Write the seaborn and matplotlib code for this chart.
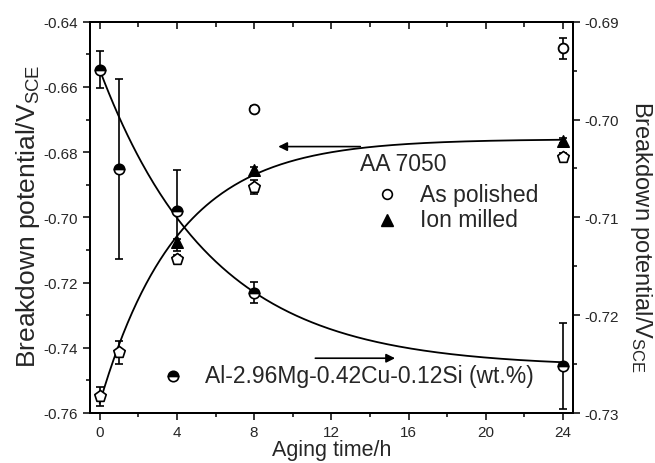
import numpy as np
import pandas as pd
import matplotlib
matplotlib.use("Agg")
import matplotlib.pyplot as plt
import seaborn as sns

# ---------------- data ----------------
# AA 7050 (left axis)
time_pol = [0, 1, 4, 8, 24]
bp_pol = [-0.7549, -0.7414, -0.7128, -0.6906, -0.6814]
err_pol = [0.0030, 0.0036, 0.0012, 0.0022, 0.0012]

time_ion = [4, 8, 24]
bp_ion = [-0.7077, -0.6855, -0.6765]
err_ion = [0.0010, 0.0010, 0.0008]

time_circ = [8, 24]
bp_circ = [-0.6668, -0.6482]
err_circ = [0.0010, 0.0031]

# Al-2.96Mg-0.42Cu-0.12Si (right axis)
time_al = [0, 1, 4, 8, 24]
bp_al = [-0.6949, -0.7051, -0.7093, -0.7177, -0.7252]
err_al = [0.0019, 0.0092, 0.0041, 0.0011, 0.0044]

# exponential fit parameters (asymptote, amplitude, time constant)
fit_7050 = (-0.676, -0.081, 4.0)
fit_al = (-0.7253, 0.0304, 5.8)

x_ticks = [0, 4, 8, 12, 16, 20, 24]
left_ticks = [-0.76, -0.74, -0.72, -0.70, -0.68, -0.66, -0.64]
right_ticks = [-0.73, -0.72, -0.71, -0.70, -0.69]

# ---------------- style ----------------
sns.set_theme(style="ticks")
plt.rcParams["font.family"] = ["Liberation Sans", "DejaVu Sans"]
plt.rcParams["mathtext.default"] = "regular"
plt.rcParams["axes.unicode_minus"] = False
plt.rcParams["axes.linewidth"] = 1.4

fig = plt.figure(figsize=(6.55, 4.64), dpi=100)
ax = fig.add_axes([90 / 655, 1 - 414 / 464, (572.7 - 90) / 655, (414 - 22.7) / 464])
ax2 = ax.twinx()

ax.set_xlim(-0.5, 24.5)
ax.set_ylim(-0.76, -0.64)
ax2.set_ylim(-0.73, -0.69)

# fitted curves
tt = np.linspace(0, 24, 300)
df_fit1 = pd.DataFrame({"t": tt, "v": fit_7050[0] + fit_7050[1] * np.exp(-tt / fit_7050[2])})
df_fit2 = pd.DataFrame({"t": tt, "v": fit_al[0] + fit_al[1] * np.exp(-tt / fit_al[2])})
sns.lineplot(data=df_fit1, x="t", y="v", ax=ax, color="black", lw=1.3, zorder=2)
sns.lineplot(data=df_fit2, x="t", y="v", ax=ax2, color="black", lw=1.3, zorder=2)

ekw = dict(fmt="none", ecolor="black", elinewidth=1.2, capsize=3, capthick=1.2, zorder=3)
ax.errorbar(time_pol, bp_pol, yerr=err_pol, **ekw)
ax.errorbar(time_ion, bp_ion, yerr=err_ion, **ekw)
ax.errorbar(time_circ, bp_circ, yerr=err_circ, **ekw)
ax2.errorbar(time_al, bp_al, yerr=err_al, **ekw)

sns.scatterplot(x=time_pol, y=bp_pol, ax=ax, marker="p", s=75, facecolor="white",
                edgecolor="black", linewidth=1.2, zorder=4)
sns.scatterplot(x=time_ion, y=bp_ion, ax=ax, marker="^", s=70, color="black",
                edgecolor="black", linewidth=1.0, zorder=5)
sns.scatterplot(x=time_circ, y=bp_circ, ax=ax, marker="o", s=50, facecolor="white",
                edgecolor="black", linewidth=1.3, zorder=4)
ax2.plot(time_al, bp_al, ls="none", marker="o", ms=7.5, fillstyle="top",
         markerfacecolor="black", markerfacecoloralt="white", markeredgecolor="black",
         markeredgewidth=1.2, zorder=6)

# ---------------- annotations ----------------
fs = 16.5
ax.text(13.5, -0.6836, "AA 7050", fontsize=fs, ha="left", va="center")
ax.plot([14.88], [-0.6929], ls="none", marker="o", ms=7, mfc="white", mec="black", mew=1.2)
ax.text(16.6, -0.6929, "As polished", fontsize=fs, ha="left", va="center")
ax.plot([14.88], [-0.7008], ls="none", marker="^", ms=9, mfc="black", mec="black")
ax.text(16.6, -0.7008, "Ion milled", fontsize=fs, ha="left", va="center")
ax.plot([3.8], [-0.7486], ls="none", marker="o", ms=7.5, fillstyle="top",
        markerfacecolor="black", markerfacecoloralt="white", markeredgecolor="black", markeredgewidth=1.2)
ax.text(5.47, -0.7486, "Al-2.96Mg-0.42Cu-0.12Si (wt.%)", fontsize=fs, ha="left", va="center")

arw = dict(arrowstyle="-|>", color="black", lw=1.2, mutation_scale=13, shrinkA=0, shrinkB=0)
ax.annotate("", xy=(9.25, -0.6783), xytext=(13.5, -0.6783), arrowprops=arw)
ax.annotate("", xy=(15.3, -0.7432), xytext=(11.17, -0.7432), arrowprops=arw)

# ---------------- axes ----------------
ax.set_xticks(x_ticks)
ax.set_xticks([2, 6, 10, 14, 18, 22], minor=True)
ax.set_yticks(left_ticks)
ax.set_yticklabels([f"{v:.2f}" for v in left_ticks])
ax.set_yticks(np.arange(-0.75, -0.64, 0.02), minor=True)
ax2.set_yticks(right_ticks)
ax2.set_yticklabels([f"{v:.2f}" for v in right_ticks])
ax2.set_yticks(np.arange(-0.725, -0.69, 0.01), minor=True)

ax.tick_params(axis="both", which="major", direction="out", length=5, width=1.1,
               labelsize=11, pad=3.5, color="black")
ax.tick_params(axis="both", which="minor", direction="out", length=3, width=1.1, color="black")
ax.tick_params(axis="x", which="major", pad=4)
ax2.tick_params(axis="y", which="major", direction="out", length=5, width=1.1,
                labelsize=11, pad=3.5, color="black")
ax2.tick_params(axis="y", which="minor", direction="out", length=3, width=1.1, color="black")

sec = ax.secondary_xaxis("top")
sec.set_xticks(x_ticks)
sec.set_xticks([2, 6, 10, 14, 18, 22], minor=True)
sec.tick_params(axis="x", which="both", direction="in", labeltop=False, width=1.1, color="black")
sec.tick_params(axis="x", which="major", length=5)
sec.tick_params(axis="x", which="minor", length=3.5)

for a in (ax, ax2):
    for s in a.spines.values():
        s.set_linewidth(1.4)
        s.set_color("black")

ax.set_xlabel("Aging time/h", fontsize=15.5)
ax.xaxis.set_label_coords(0.5, -0.066)
ax.set_ylabel("Breakdown potential/V$_{SCE}$", fontsize=19)
ax.yaxis.set_label_coords(-0.099, 0.505)
ax2.set_ylabel("Breakdown potential/V$_{SCE}$", fontsize=17, rotation=270, va="bottom")
ax2.yaxis.set_label_coords(1.1146, 0.452)

fig.savefig("out.png", dpi=100)
